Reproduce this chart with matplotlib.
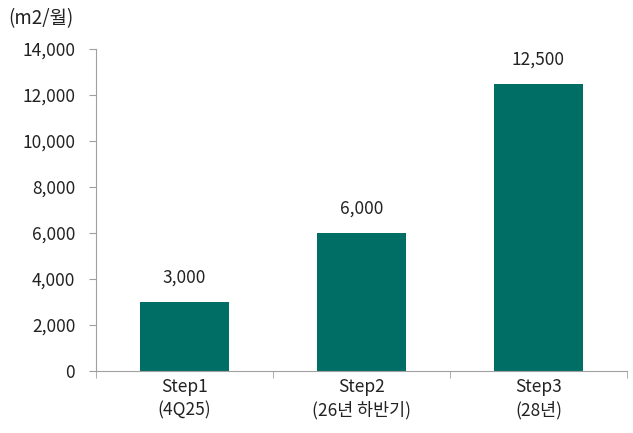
import matplotlib.pyplot as plt

plt.rcParams['font.family'] = ['Noto Sans CJK KR', 'DejaVu Sans']

categories = ['Step1\n(4Q25)', 'Step2\n(26년 하반기)', 'Step3\n(28년)']
values = [3000, 6000, 12500]

fig = plt.figure(figsize=(6.33, 4.33), dpi=100)
ax = fig.add_axes([0.1517, 0.1432, 0.8388, 0.7436])

x = range(len(categories))
ax.bar(x, values, width=0.5, color='#006E64')

for xi, v in zip(x, values):
    ax.text(xi, v + 650, f'{v:,}', ha='center', va='bottom', fontsize=12.5, color='#222222')

ax.set_xlim(-0.5, 2.5)
ax.set_ylim(0, 14000)
ax.set_yticks(range(0, 14001, 2000))
ax.set_yticklabels([f'{t:,}' for t in range(0, 14001, 2000)])
ax.set_xticks(list(x))
ax.set_xticklabels(categories, linespacing=1.35)
ax.set_xticks([-0.5, 0.5, 1.5, 2.5], minor=True)
ax.tick_params(axis='x', which='major', length=0, pad=5, labelsize=12.5, colors='#222222')
ax.tick_params(axis='x', which='minor', length=5, color='#A0A0A0')
ax.tick_params(axis='y', length=5, color='#A0A0A0', labelsize=12.5, labelcolor='#222222', pad=10)

for s in ['top', 'right']:
    ax.spines[s].set_visible(False)
for s in ['left', 'bottom']:
    ax.spines[s].set_color('#A0A0A0')

fig.text(0.013, 0.958, '(m2/월)', fontsize=13.5, color='#222222', ha='left', va='center')

fig.savefig('out.png', dpi=100)
